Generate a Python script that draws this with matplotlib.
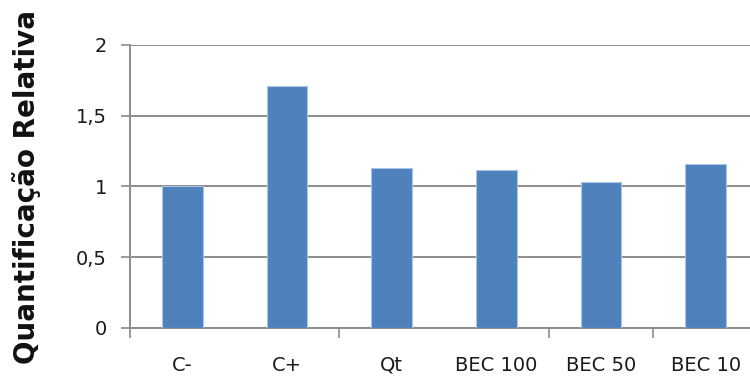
import matplotlib
matplotlib.use("Agg")
import matplotlib.pyplot as plt
import numpy as np

# Quantificação relativa por amostra
amostras = ["C-", "C+", "Qt", "BEC 100", "BEC 50", "BEC 10"]
quantificacao = [1.00, 1.71, 1.13, 1.12, 1.03, 1.16]
y_ticks = [0, 0.5, 1, 1.5, 2]
y_tick_labels = ["0", "0,5", "1", "1,5", "2"]

cor_barra = "#4F81BD"
cor_grade = "#8C8C8C"

plt.rcParams["font.family"] = ["DejaVu Sans"]

fig = plt.figure(figsize=(7.5, 3.78), dpi=100)
ax = fig.add_axes([0.1733, 0.1323, 0.8373, 0.7487])

x = np.arange(len(amostras))
ax.bar(x, quantificacao, width=0.39, color=cor_barra,
       edgecolor="#A9C3E3", linewidth=0.8, zorder=3)

ax.set_xlim(-0.5, len(amostras) - 0.5)
ax.set_ylim(0, 2)

ax.set_yticks(y_ticks)
ax.set_yticklabels(y_tick_labels)
ax.yaxis.grid(True, color=cor_grade, linewidth=1.4, zorder=0)
ax.tick_params(axis="y", direction="out", length=6.5, width=1.2,
               color=cor_grade, pad=10, labelsize=14, labelcolor="#1a1a1a")

ax.set_xticks(x)
ax.set_xticklabels(amostras)
ax.set_xticks([-0.5, 1.5, 3.5, 4.5], minor=True)
ax.tick_params(axis="x", which="major", length=0, pad=20,
               labelsize=14, labelcolor="#1a1a1a")
ax.tick_params(axis="x", which="minor", direction="out", length=7,
               width=1.2, color=cor_grade)

for lado in ["top", "right"]:
    ax.spines[lado].set_visible(False)
for lado in ["left", "bottom"]:
    ax.spines[lado].set_color(cor_grade)
    ax.spines[lado].set_linewidth(1.4)

fig.text(0.036, 0.505, "Quantificação Relativa", rotation=90,
         ha="center", va="center", fontsize=20, fontweight="bold",
         color="#111111")

fig.savefig("out.png", dpi=100)
